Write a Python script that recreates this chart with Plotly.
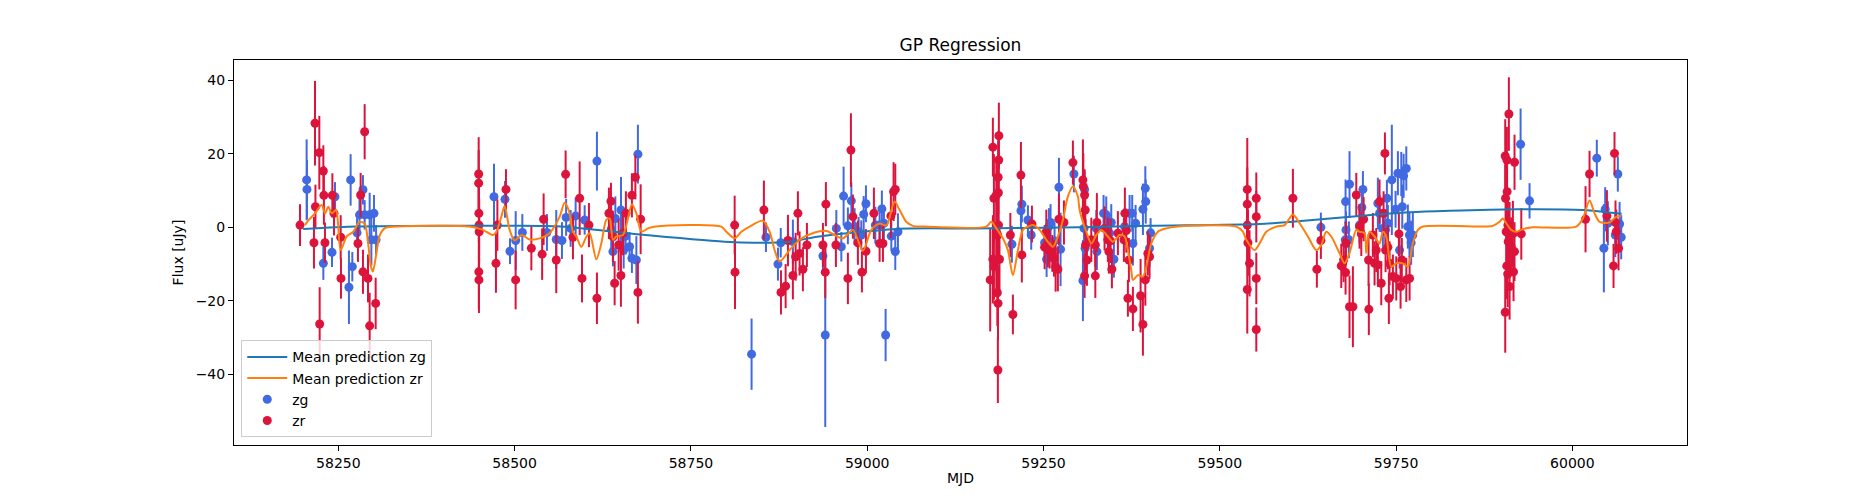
import plotly.graph_objs as go

# zg band photometry (MJD, flux, error)
zg_mjd = [58205.0, 58205.5, 58228.7, 58241.0, 58245.2, 58267.4, 58265.0, 58269.8, 58276.5,
          58280.0, 58284.9, 58287.3, 58294.4, 58300.5, 58296.8, 58303.5,
          58470.7, 58486.3, 58493.4, 58501.5, 58510.9, 58545.8, 58559.0,
          58567.1, 58573.0, 58579.4, 58586.5, 58599.3, 58616.7, 58637.0, 58642.8, 58639.4, 58650.8,
          58654.6, 58657.4, 58663.0, 58666.3, 58672.6, 58674.8,
          58836.0, 58856.4, 58873.4, 58877.4, 58894.6, 58937.2, 58940.5, 59026.1, 58956.2, 58963.3,
          58966.5, 58977.5, 58972.6, 58982.1, 58987.8, 58991.6, 58995.0, 58998.2, 59011.5, 59017.6,
          59020.8, 59023.7, 59034.2, 59039.8, 59043.6,
          59205.2, 59219.3, 59218.0, 59227.9, 59232.6, 59251.6, 59254.4, 59257.7, 59260.0, 59265.7,
          59271.9, 59274.2, 59293.1,
          59305.9, 59308.3, 59307.5, 59309.0, 59324.9, 59325.7, 59335.2, 59339.0, 59346.1, 59343.7,
          59349.8, 59365.0, 59372.1, 59376.8, 59375.8, 59380.6, 59391.0, 59394.4, 59395.0, 59401.9,
          59400.4,
          59643.4, 59678.4, 59684.0, 59679.0, 59678.0, 59683.1, 59698.2, 59701.5, 59703.0, 59724.2,
          59726.6, 59731.3, 59737.0, 59735.0, 59744.0, 59738.4, 59749.3, 59752.6, 59757.4, 59760.7,
          59764.5, 59758.8, 59755.0, 59766.7, 59769.0, 59771.4, 59773.8,
          59926.6, 59939.3, 60034.7, 60064.5, 60044.7, 60046.6, 60050.4, 60060.9, 60067.0, 60069.3]
zg_flux = [12.9, 10.3, -9.8, -6.8, 8.3, 12.9, -16.3, -10.7, -1.5,
           3.4, 10.2, 3.4, 3.4, 3.8, -3.4, -3.4,
           8.3, 7.6, -6.5, -3.6, -1.4, -1.4, -3.3,
           -3.6, 2.7, -0.3, 3.1, 2.0, 18.0, -0.5, 2.4, -6.6, 4.7,
           -6.2, -2.4, -5.3, -8.4, -8.9, 19.9,
           -34.5, -2.7, -10.0, -4.2, -3.9, -7.8, -29.3, -29.3, -0.3, -5.3,
           8.5, 7.2, 0.4, 0.2, -1.2, -2.1, 3.5, 6.4, 0.6, 0.6,
           5.0, 1.1, -2.4, -6.6, -1.2,
           -4.6, 6.3, 4.5, 2.0, -2.1, -4.2, -8.7, 0.2, 1.3, -3.7,
           10.9, -6.0, 14.5,
           -14.5, 10.3, -0.3, -5.7, -0.3, -6.6, 3.8, 3.4, 1.3, -1.6,
           -8.7, 0.2, 3.8, -4.4, 3.8, 1.1, 4.9, 10.6, 7.0, -1.5,
           -5.7,
           0.0, 7.0, 11.7, -0.7, -3.4, -3.4, 0.6, 5.4, 10.3, 6.5,
           3.8, -0.3, 7.9, -0.7, 12.9, 1.1, 4.9, 14.7, 14.5, 14.0,
           16.0, 5.6, -6.2, 0.2, -2.1, -4.2, -2.1,
           22.6, 7.2, 18.8, 14.5, -5.7, 4.9, 1.1, -2.1, 0.9, -2.7]
zg_err = [11, 8, 4.5, 4, 4, 7, 10, 4, 4,
          5, 4, 4, 6, 5, 7, 4,
          9, 5, 3.5, 8, 5, 5, 8,
          5, 5, 5, 5, 4, 8, 6, 6, 4, 9,
          5, 5, 4, 4, 6.5, 8,
          9.7, 4, 4.5, 4, 6, 5, 25, 7.1, 5, 4,
          8, 5, 5, 5, 4, 4, 5, 5, 5, 5,
          5, 5, 4, 5, 5,
          5, 5, 5, 4, 4, 4, 4.8, 5, 5, 5,
          8, 10, 5,
          11, 5, 6, 6, 5, 5, 5, 5, 5, 5,
          5, 5, 5, 6, 5, 5, 7, 6, 6, 4,
          5,
          4, 6, 9, 5, 5, 5, 5, 5, 5, 7,
          5, 5, 5, 5, 15, 5, 5, 6, 6, 6,
          6, 6, 5, 6, 6, 6, 6,
          9.7, 4.8, 5, 4.8, 12, 6, 6, 6, 6, 6]

# zr band photometry (MJD, flux, error)
zr_mjd = [58195.6, 58216.9, 58223.0, 58228.7, 58217.5, 58215.4, 58231.0, 58229.5, 58241.5,
          58243.8, 58253.3, 58253.7, 58223.5,
          58287.3, 58281.6, 58277.8, 58284.9, 58292.0, 58294.4, 58302.9,
          58449.0, 58449.0, 58449.3, 58449.5, 58449.7, 58449.2, 58449.4, 58475.5, 58473.5, 58487.7,
          58501.4, 58523.7, 58541.1, 58539.0, 58559.0,
          58572.3, 58582.7, 58592.2, 58595.5, 58605.4, 58616.7, 58633.7, 58636.6, 58639.4, 58641.8,
          58647.5, 58650.7, 58653.6, 58657.8, 58666.3, 58671.2, 58678.7, 58674.8,
          58812.0, 58812.5, 58853.5, 58877.7, 58884.3, 58887.6, 58894.6, 58898.5, 58901.7, 58904.1,
          58908.8, 58914.5, 58937.2, 58941.4, 58940.5, 58955.6, 58972.6, 58976.9, 58979.7, 58986.8,
          58992.5, 58998.2, 59009.5, 59017.6, 59022.3, 59033.6, 59037.4, 59039.8,
          59178.2, 59186.7, 59186.5, 59185.7, 59186.0, 59179.7, 59183.1, 59186.2, 59183.5, 59185.0,
          59178.2, 59183.1, 59187.6, 59179.7, 59174.4, 59184.5, 59185.5, 59185.3,
          59203.0, 59206.6, 59218.0, 59219.3, 59233.6, 59254.0, 59251.6, 59256.2, 59258.7, 59262.5,
          59264.8, 59267.2, 59270.4, 59271.9, 59279.0, 59291.7,
          59305.9, 59306.5, 59308.3, 59309.2, 59309.7, 59308.3, 59311.6, 59317.8, 59323.5, 59323.5,
          59325.7, 59336.6, 59342.7, 59341.3, 59347.0, 59345.2, 59355.5, 59364.0, 59365.4, 59367.4,
          59371.1, 59369.7, 59376.8, 59387.7, 59391.0, 59394.4, 59398.0, 59400.4,
          59539.0, 59539.0, 59539.0, 59539.9, 59539.0, 59542.2, 59551.8, 59551.8, 59551.8, 59551.8,
          59603.7, 59637.7, 59643.4, 59672.3, 59675.6, 59678.4, 59678.9, 59684.0, 59688.8, 59693.6,
          59698.2, 59700.7, 59704.0, 59711.4, 59711.0, 59717.1, 59719.5, 59721.9, 59724.2, 59726.6,
          59729.0, 59732.3, 59734.2, 59735.1, 59738.4, 59739.8, 59740.8, 59745.5, 59750.3, 59754.0,
          59756.4, 59758.2, 59764.5, 59769.2,
          59910.0, 59904.8, 59907.2, 59918.0, 59907.5, 59905.3, 59908.6, 59906.2, 59911.0, 59915.7,
          59927.6, 59909.0, 59913.3, 59918.0, 59907.0, 59916.6, 59908.3, 59911.0, 59904.8,
          60018.7, 60024.4, 60049.0, 60059.8, 60061.2, 60062.3, 60065.5, 60058.4]
zr_flux = [0.6, 28.3, 20.3, 15.3, 5.6, -4.2, -4.2, 8.7, 8.7,
           3.8, -2.7, -13.9, -26.3,
           26.0, 8.8, -4.4, -12.1, -13.9, -26.8, -20.7,
           14.5, 12.0, 3.8, 0.6, -1.2, -12.1, -14.3, 0.6, -9.8, 10.3,
           -14.3, -5.7, 2.2, -7.3, -8.9,
           14.4, -2.7, 7.9, -13.9, 0.6, -19.3, 3.8, 7.1, -2.5, -15.2,
           -4.8, -13.1, -1.6, 3.8, 8.7, 13.6, 2.2, -17.7,
           0.6, -12.2, 4.7, -17.7, -16.0, -3.6, -13.1, -8.0, 3.8, -7.1,
           -11.4, -4.8, -4.8, 6.3, -12.2, -4.8, -13.9, 21.0, 2.9, -4.2,
           -12.2, -6.5, 3.8, -4.4, -4.4, 3.1, 9.7, 10.3,
           21.8, 24.9, 18.3, 13.6, 9.4, 7.9, 8.8, 0.6, -1.6, -2.1,
           -8.7, -8.9, -8.7, -10.7, -14.3, -17.8, -20.7, -38.8,
           -2.1, -23.7, 14.2, -7.5, 0.9, -1.2, -5.4, -5.9, -6.2, -7.1,
           -8.4, -10.7, -11.4, 2.2, 1.3, 17.6,
           12.9, 11.1, 8.8, 4.7, -4.8, -13.2, -8.9, -3.4, -4.8, -13.2,
           1.3, -0.3, -6.6, -3.4, -11.4, -3.7, -1.6, -3.4, 3.8, -0.9,
           -8.9, -19.3, -22.2, -18.6, -26.4, -14.3, -7.1, -8.0,
           10.3, 6.3, 0.6, -4.2, -16.9, -9.8, 7.9, 2.9, -13.9, -27.8,
           7.9, -11.4, -3.6, -10.5, -8.9, -12.3, -4.4, -21.6, -21.6, 8.8,
           0.2, -1.8, 2.2, -22.3, -8.9, -2.1, -9.8, -6.2, -10.2, 7.0,
           -15.2, 3.8, 20.1, -6.2, -5.4, -19.3, -9.8, -13.4, -13.9, -1.8,
           -16.1, -8.9, -14.3, -13.9,
           30.8, 19.4, 18.3, 17.7, 9.7, 7.9, 0.6, -1.2, -2.1, -1.8,
           -1.8, -3.9, -5.3, -6.6, -10.5, -12.1, -12.7, -16.1, -23.1,
           2.2, 14.5, 3.1, 20.1, 1.3, -1.2, -5.7, -10.5]
zr_err = [5.7, 11.5, 10, 7, 6, 7, 5.5, 8, 6,
          6, 6, 5.5, 10,
          7.5, 6, 5, 6, 6.5, 9, 7,
          10, 9, 8, 9, 9, 10, 9, 7, 8, 5.5,
          8, 6, 7, 7, 9,
          6.5, 6, 10, 6.5, 6, 7, 7, 5, 7, 6,
          7, 8.5, 6, 6, 6, 6, 9.5, 8.5,
          8, 10, 8, 6, 6, 7, 6.5, 6.5, 6, 6,
          6, 6, 6, 6, 7, 6, 7, 10, 6, 6,
          5.5, 6, 7, 5, 5, 6, 8, 7,
          8, 9, 8, 10, 9, 12, 10, 10, 11, 9,
          12, 10, 9, 9, 14, 9, 10, 9,
          6, 5.4, 9, 7.5, 5, 6, 6, 5, 5, 5,
          5, 6.8, 6, 7, 6, 6,
          11, 9, 7, 7, 7, 6, 7, 6, 6, 6,
          8, 6, 6, 6, 5.2, 6, 6, 6, 7, 6,
          6, 5, 6, 10, 8.5, 7, 6, 6,
          14, 10, 10, 9, 12, 9, 7, 7, 7, 6,
          8, 5, 5, 6, 6, 6, 6, 8.5, 11, 6,
          6, 6, 6, 7, 7, 6, 6, 6, 6, 6,
          6, 6, 5.7, 6, 6, 7, 6, 6, 6, 6,
          6, 6, 6, 6,
          10, 10, 9, 7.5, 9, 9, 9, 9, 9, 9,
          7, 9, 8, 8, 9, 8, 9, 9, 11,
          9, 6.3, 7, 5.8, 6, 6, 6, 6]

# GP mean prediction for zg
pred_zg_mjd = [58200, 58276, 58350, 58450, 58560, 58670, 58798, 58840, 58886, 58932, 58979,
               59046, 59150, 59301, 59400, 59556, 59603, 59698, 59769, 59826, 59921, 60015,
               60063, 60070]
pred_zg = [-0.45, 0.2, 0.35, 0.4, 0.3, -1.8, -3.9, -4.2, -4.0, -2.5, -1.5,
           -0.4, -0.3, 0.0, 0.4, 0.9, 1.5, 3.1, 4.1, 4.5, 4.9, 4.7,
           3.8, 3.7]

# GP mean prediction for zr
pred_zr_mjd = [58202.6, 58208, 58216.9, 58226.3, 58231.0, 58235.8, 58240.5, 58246.6, 58253.3,
               58261.8, 58271.3, 58280.0, 58287.3, 58292.0, 58296.0, 58299.0, 58304.0, 58309.0,
               58316.0, 58330, 58436.2, 58455.0, 58469.2, 58474.0, 58481.1, 58485.8, 58492.9,
               58500.0, 58509.5, 58521.3, 58535.5, 58549.6, 58563.8, 58570.9, 58576.6, 58582.7,
               58587.5, 58594.6, 58601.7, 58606.4, 58615.8, 58622.9, 58630.0, 58634.7, 58639.4,
               58644.2, 58653.6, 58660.7, 58666.3, 58672.6, 58679.7, 58689.0, 58700, 58793.0,
               58800.2, 58812.0, 58821.5, 58833.2, 58852.1, 58861.6, 58868.7, 58875.8, 58890.0,
               58904.1, 58925.4, 58942.0, 58965.6, 58979.7, 58993.9, 59005.8, 59017.6, 59027.1,
               59038.8, 59046.0, 59055.4, 59064.8, 59080, 59168.9, 59176.0, 59183.1, 59192.4,
               59199.5, 59206.6, 59213.7, 59220.8, 59227.9, 59235.0, 59244.5, 59254.0, 59263.3,
               59270.4, 59277.5, 59284.6, 59291.7, 59298.8, 59301.2, 59310.7, 59317.8, 59324.9,
               59332.0, 59341.3, 59348.4, 59357.9, 59365.0, 59369.7, 59374.5, 59376.8, 59383.9,
               59391.0, 59395.8, 59402.9, 59412.2, 59424.1, 59440, 59523.4, 59532.8, 59537.6,
               59549.3, 59556.4, 59566.0, 59580.1, 59591.9, 59603.7, 59613.2, 59625.0, 59636.8,
               59643.9, 59651.0, 59658.1, 59669.9, 59677.0, 59684.0, 59693.6, 59698.2, 59705.3,
               59707.7, 59712.4, 59719.5, 59726.6, 59731.3, 59736.1, 59743.2, 59750.3, 59759.6,
               59766.7, 59773.8, 59780.9, 59788.0, 59877.9, 59887.3, 59896.8, 59901.5, 59906.3,
               59913.3, 59920.4, 59929.8, 59944.0, 60005.5, 60014.9, 60024.4, 60031.5, 60038.6,
               60052.7, 60062.3, 60069.3]
pred_zr = [0.6, 2.0, 3.8, 6.1, 3.8, 5.6, 3.8, 4.7, -6.2,
           -2.5, -1.2, 1.5, 1.0, -4.0, -10.5, -12.0, -7.0, -2.0,
           -0.2, 0.2, 0.2, -0.7, -2.1, -1.2, 2.9, 5.8, -0.7,
           -3.6, -2.1, -3.3, -3.0, -1.6, 2.9, 6.7, 4.7, -1.2,
           -2.5, -5.3, -2.5, -1.6, -8.7, -4.4, 2.0, 2.4, -3.4,
           -2.5, -2.1, 2.4, 6.3, 3.8, -1.2, -0.3, 0.2, 0.2,
           -1.2, -3.0, -1.2, 0.2, 1.8, -1.2, -6.2, -9.3, -6.2,
           -3.4, -1.4, -1.0, -3.0, -0.7, -6.4, -0.7, 1.0, 0.5,
           7.0, 4.7, 1.5, 0.4, 0.2, 0.2, 1.5, -0.3, -3.0,
           -6.2, -13.0, -6.2, -0.7, 0.2, 0.6, -0.7, -3.4, -5.3,
           -2.5, 2.0, 8.4, 11.1, 8.4, 4.7, -1.2, -4.4, -2.1,
           -0.7, -2.5, -3.9, -2.1, -2.5, -6.2, -11.6, -14.3, -13.0,
           -13.4, -10.7, -4.4, -1.2, -0.3, 0.2, 0.2, -1.2, -3.4,
           -6.2, -4.4, -1.2, 0.2, 0.6, 3.5, 1.1, -2.5, -6.2,
           -4.8, -1.2, -2.5, -7.1, -9.8, -7.0, -0.7, -1.2, -1.6,
           -7.0, -1.2, -2.5, -4.4, -1.2, -2.5, -10.7, -9.8, -9.8,
           -10.7, -4.4, -0.7, 0.2, 0.2, 0.4, 1.5, 2.4, 1.1,
           -0.7, -1.2, -0.5, 0.0, 0.2, 2.4, 7.3, 3.8, 1.5,
           1.3, 2.9, 3.0]

fig = go.Figure()

fig.add_trace(go.Scatter(x=zg_mjd, y=zg_flux, mode='markers', name='zg',
                         marker=dict(color='#4169E1', size=9),
                         error_y=dict(type='data', array=zg_err, color='#4169E1',
                                      thickness=2, width=0),
                         legendrank=3))
fig.add_trace(go.Scatter(x=zr_mjd, y=zr_flux, mode='markers', name='zr',
                         marker=dict(color='#DC143C', size=9),
                         error_y=dict(type='data', array=zr_err, color='#DC143C',
                                      thickness=2, width=0),
                         legendrank=4))
fig.add_trace(go.Scatter(x=pred_zg_mjd, y=pred_zg, mode='lines', name='Mean prediction zg',
                         line=dict(color='#1f77b4', width=2, shape='spline', smoothing=0.8),
                         legendrank=1))
fig.add_trace(go.Scatter(x=pred_zr_mjd, y=pred_zr, mode='lines', name='Mean prediction zr',
                         line=dict(color='#ff7f0e', width=2, shape='spline', smoothing=0.8),
                         legendrank=2))

# page body adds an 8px offset, margins below account for it
fig.update_layout(
    width=1875, height=500,
    margin=dict(l=226, r=196, t=52, b=63),
    paper_bgcolor='white', plot_bgcolor='white',
    font=dict(family='DejaVu Sans', size=14, color='black'),
    title=dict(text='GP Regression', x=0.5, xref='paper', xanchor='center',
               y=0.926, yanchor='middle', font=dict(size=17)),
    showlegend=True,
    legend=dict(x=0.005, y=0.02, xanchor='left', yanchor='bottom',
                bgcolor='rgba(255,255,255,0.8)', bordercolor='#cccccc', borderwidth=1,
                font=dict(size=14), tracegroupgap=0, itemwidth=40),
)
fig.update_xaxes(range=[58102, 60162.6], tickvals=[58250, 58500, 58750, 59000, 59250, 59500, 59750, 60000],
                 ticks='outside', ticklen=5, tickcolor='black', showgrid=False, zeroline=False,
                 showline=True, linecolor='black', linewidth=1, mirror=True,
                 title=dict(text='MJD', standoff=3, font=dict(size=14)), tickformat='d')
fig.update_yaxes(range=[-59.2, 45.5], tickvals=[-40, -20, 0, 20, 40],
                 ticks='outside', ticklen=5, tickcolor='black', showgrid=False, zeroline=False,
                 showline=True, linecolor='black', linewidth=1, mirror=True,
                 title=dict(text='Flux [uJy]', standoff=8, font=dict(size=14)))

fig.write_html("out.html")
